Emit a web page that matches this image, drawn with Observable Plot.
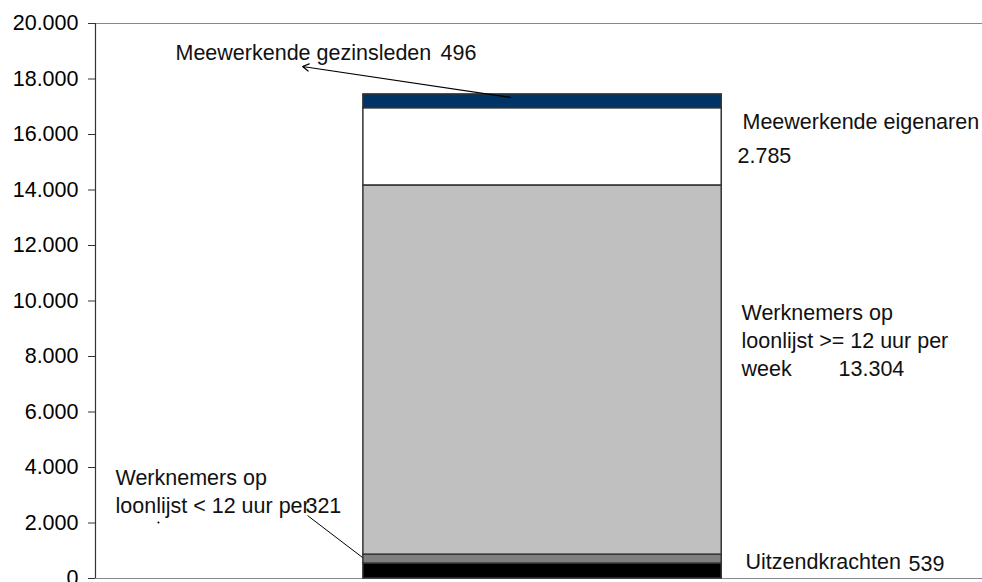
<!DOCTYPE html>
<html>
<head>
<meta charset="utf-8">
<script src="https://cdn.jsdelivr.net/npm/d3@7"></script>
<script src="https://cdn.jsdelivr.net/npm/@observablehq/plot@0.6"></script>
<style>
  html, body { margin: 0; padding: 0; background: #fff; }
  svg { font-family: "Liberation Sans", Arial, sans-serif; }
</style>
</head>
<body>
<div id="chart"></div>
<script>
// Data (bottom to top of the stacked bar)
const categories = [
  "Uitzendkrachten",
  "Werknemers op loonlijst < 12 uur per week",
  "Werknemers op loonlijst >= 12 uur per week",
  "Meewerkende eigenaren",
  "Meewerkende gezinsleden"
];
const values = [539, 321, 13304, 2785, 496];
const colors = ["#000000", "#808080", "#c0c0c0", "#ffffff", "#003366"];
const yTicks = [0, 2000, 4000, 6000, 8000, 10000, 12000, 14000, 16000, 18000, 20000];

const nl = d3.formatLocale({decimal: ",", thousands: ".", grouping: [3], currency: ["€", ""]});
const fmt = nl.format(",d");

const data = categories.map((c, i) => ({category: c, value: values[i], color: colors[i]}));

// Layout (x on a 0..10 horizontal frame scale)
const bar = {x1: 3.02, x2: 7.06};
const labels = [
  {text: "Meewerkende gezinsleden", x: 0.902, y: 18667},
  {text: fmt(values[4]), x: 3.89, y: 18667},
  {text: "Meewerkende eigenaren", x: 7.294, y: 16216},
  {text: fmt(values[3]), x: 7.238, y: 14955},
  {text: "Werknemers op\nloonlijst >= 12 uur per\nweek", x: 7.283, y: 7315},
  {text: fmt(values[2]), x: 8.377, y: 7315},
  {text: "Werknemers op\nloonlijst < 12 uur per", x: 0.2255, y: 2378},
  {text: fmt(values[1]), x: 2.367, y: 2378},
  {text: "Uitzendkrachten", x: 7.328, y: 360},
  {text: fmt(values[0]), x: 9.166, y: 288}
];

const plot = Plot.plot({
  width: 982,
  height: 582,
  marginTop: 23,
  marginBottom: 4,
  marginLeft: 95,
  marginRight: 0,
  style: {fontFamily: "Liberation Sans, Arial, sans-serif", fontSize: "21.5px", color: "#000", background: "#fff"},
  x: {domain: [0, 10], axis: null},
  y: {domain: [0, 20000], axis: null},
  marks: [
    Plot.ruleY([20000], {stroke: "#888", strokeWidth: 1.2}),
    Plot.ruleY([0], {stroke: "#888", strokeWidth: 1.2}),
    Plot.rectY(data, {x1: bar.x1, x2: bar.x2, y: "value", fill: "color", stroke: "#333", strokeWidth: 1.5}),
    Plot.axisY({ticks: yTicks, tickFormat: fmt, tickSize: 7, tickPadding: 10, stroke: "#333", fontSize: 21.5, fill: "#000"}),
    Plot.ruleX([0], {y1: 0, y2: 20000, stroke: "#333", strokeWidth: 1.2}),
    Plot.arrow([{x1: 4.68, y1: 17333, x2: 2.334, y2: 18450}], {x1: "x1", y1: "y1", x2: "x2", y2: "y2", stroke: "#000", strokeWidth: 1.2, headLength: 9}),
    Plot.link([{x1: 2.39, y1: 2270, x2: 3.01, y2: 757}], {x1: "x1", y1: "y1", x2: "x2", y2: "y2", stroke: "#000", strokeWidth: 1}),
    Plot.dot([{x: 0.71, y: 2018}], {x: "x", y: "y", r: 1, fill: "#000", stroke: null}),
    Plot.text(labels, {x: "x", y: "y", text: "text", textAnchor: "start", lineAnchor: "bottom", lineHeight: 1.3, fontSize: 21.5, fill: "#111"})
  ]
});
document.getElementById("chart").appendChild(plot);
</script>
</body>
</html>
